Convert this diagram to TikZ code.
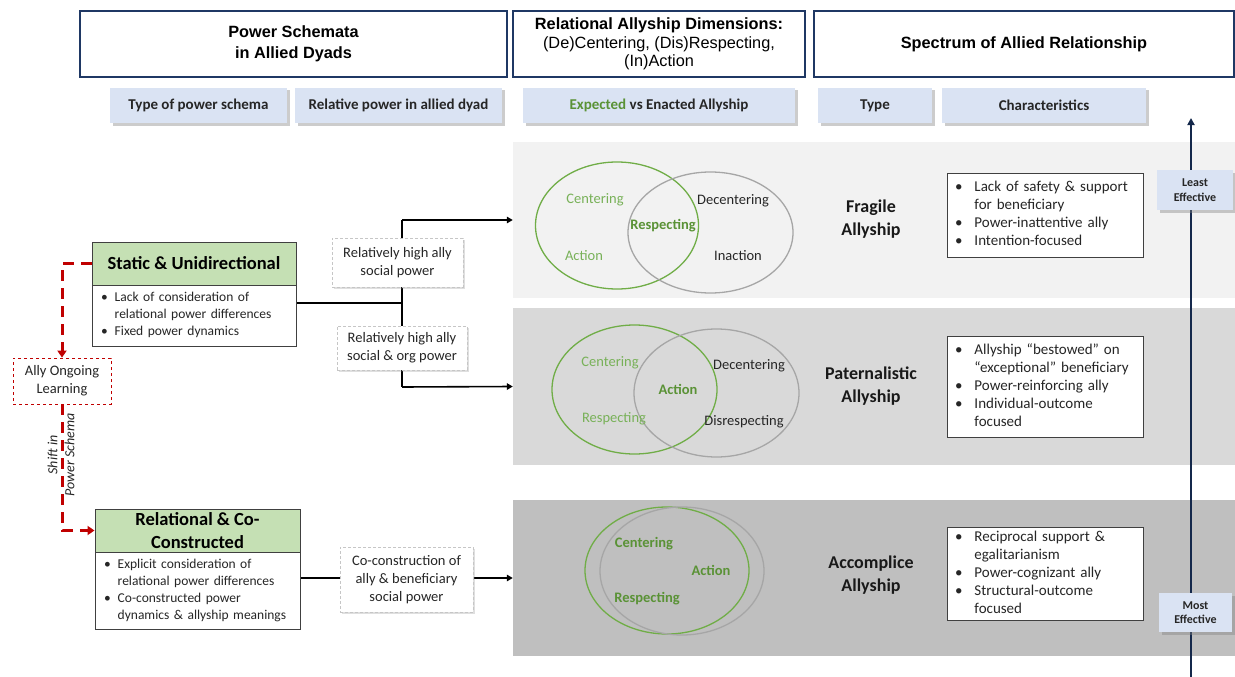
\documentclass[tikz,border=0pt]{standalone}
\usepackage{fontspec}
\setmainfont{Carlito}
\newfontfamily\arialf{Liberation Sans}
\usetikzlibrary{arrows.meta,shadows}
\pgfdeclarelayer{back}
\pgfdeclarelayer{mid}
\pgfsetlayers{back,mid,main}
\definecolor{navy}{HTML}{1F3864}
\definecolor{tabblue}{HTML}{DAE3F3}
\definecolor{bandA}{HTML}{F2F2F2}
\definecolor{bandB}{HTML}{D9D9D9}
\definecolor{bandC}{HTML}{BFBFBF}
\definecolor{greenfill}{HTML}{C5E0B4}
\definecolor{gline}{HTML}{70AD47}
\definecolor{glight}{HTML}{78B158}
\definecolor{gbold}{HTML}{5A9236}
\definecolor{gray2}{HTML}{A6A6A6}
\definecolor{redd}{HTML}{C00000}
\definecolor{spinec}{HTML}{14284B}
\definecolor{txt}{HTML}{262626}
\definecolor{boxline}{HTML}{404040}
\begin{document}
\begin{tikzpicture}[x=1pt,y=-1pt,
  hdr/.style={draw=navy, line width=1.2pt, fill=white, align=center, inner sep=0pt,
    font=\arialf\fontsize{16.3}{21}\selectfont\bfseries, text=black},
  tabbox/.style={fill=tabblue, draw=none, align=center, inner sep=0pt,
    font=\bfseries\fontsize{15}{18}\selectfont, text=txt,
    drop shadow={shadow xshift=2.5pt, shadow yshift=-2.5pt, opacity=0.4}},
  lbl/.style={fill=white, draw=gray!45, densely dashed, line width=0.7pt, align=center, inner sep=0pt,
    font=\fontsize{14.5}{18}\selectfont, text=txt,
    drop shadow={shadow xshift=2pt, shadow yshift=-2pt, opacity=0.25}},
  ghead/.style={draw=boxline, line width=1pt, fill=greenfill, align=center, inner sep=0pt,
    font=\bfseries\fontsize{18.5}{23}\selectfont, text=black},
  bodybox/.style={draw=boxline, line width=1pt, fill=white, align=left, inner xsep=9pt, inner ysep=0pt,
    font=\fontsize{13.5}{17}\selectfont, text=txt},
  charbox/.style={draw=boxline, line width=1pt, fill=white, align=left, inner xsep=8pt, inner ysep=0pt,
    font=\fontsize{15}{18}\selectfont, text=txt, minimum width=196pt, text width=180pt},
  bandbox/.style={draw=none, minimum width=722pt, inner sep=0pt},
  typelbl/.style={align=center, font=\bfseries\fontsize{18}{23}\selectfont, text=black!90},
  vlg/.style={font=\fontsize{14.5}{17}\selectfont, text=glight},
  vbg/.style={font=\bfseries\fontsize{14.5}{17}\selectfont, text=gbold},
  vdk/.style={font=\fontsize{14.5}{17}\selectfont, text=txt},
  gell/.style={draw=gline, line width=1.3pt},
  kell/.style={draw=gray2, line width=1.3pt},
  conn/.style={draw=black, line width=1.6pt},
  connarr/.style={conn, -{Triangle[length=6pt,width=6.5pt]}},
  reddash/.style={draw=redd, line width=3pt, dash pattern=on 11pt off 7pt, -{Triangle[length=7pt,width=9pt]}},
  spinearr/.style={draw=spinec, line width=2.8pt, -{Triangle[length=7pt,width=7pt]}},
  effbox/.style={tabbox, font=\bfseries\fontsize{12}{14.5}\selectfont}
]
\useasboundingbox (0,0) rectangle (1235,677);

% bands
\begin{pgfonlayer}{back}
\node[bandbox, fill=bandA, minimum height=156pt] (b1) at (874,220) {};
\node[bandbox, fill=bandB, minimum height=157pt] (b2) at (874,386.5) {};
\node[bandbox, fill=bandC, minimum height=156pt] (b3) at (874,578) {};
\end{pgfonlayer}

% headers
\node[hdr, minimum width=427pt, minimum height=66pt] (h1) at (293.5,44) {Power Schemata\\in Allied Dyads};
\node[hdr, minimum width=292pt, minimum height=66pt, font=\arialf\fontsize{16.3}{18.5}\selectfont\bfseries] (h2) at (659,44)
  {Relational Allyship Dimensions:\\{\mdseries (De)Centering, (Dis)Respecting,}\\{\mdseries (In)Action}};
\node[hdr, minimum width=420pt, minimum height=66pt] (h3) at (1024,44) {Spectrum of Allied Relationship};

% tabs
\node[tabbox, minimum width=177pt, minimum height=35pt] (t1) at (198.5,105.5) {Type of power schema};
\node[tabbox, minimum width=207pt, minimum height=35pt] (t2) at (398.5,105.5) {Relative power in allied dyad};
\node[tabbox, minimum width=272pt, minimum height=35pt] (t3) at (659,105.5) {\textcolor{gbold}{Expected} vs Enacted Allyship};
\node[tabbox, minimum width=114pt, minimum height=35pt] (t4) at (875,105.5) {Type};
\node[tabbox, minimum width=204pt, minimum height=35pt] (t5) at (1044,105.5) {Characteristics};

% left boxes
\node[ghead, minimum width=204pt, minimum height=43pt] (sh) at (194,263.5) {Static \& Unidirectional};
\node[bodybox, minimum width=204pt, text width=186pt, minimum height=61pt] (sb) at (194,315.5)
  {\begin{tabular}{@{}l@{\hspace{7pt}}l@{}}\textbullet & Lack of consideration of\\ & relational power differences\\ \textbullet & Fixed power dynamics\end{tabular}};
\node[ghead, minimum width=205pt, minimum height=43pt] (rh) at (197.5,530.5) {Relational \& Co-\\Constructed};
\node[bodybox, minimum width=205pt, text width=187pt, minimum height=77pt] (rb) at (197.5,590.5)
  {\begin{tabular}{@{}l@{\hspace{7pt}}l@{}}\textbullet & Explicit consideration of\\ & relational power differences\\ \textbullet & Co-constructed power\\ & dynamics \& allyship meanings\end{tabular}};

\node[draw=redd, dashed, line width=0.8pt, fill=white, align=center, inner sep=0pt,
  minimum width=98pt, minimum height=46pt, font=\fontsize{14.5}{18}\selectfont, text=txt] (ally) at (62,381) {Ally Ongoing\\Learning};
\node[rotate=90, align=center, font=\itshape\fontsize{14}{17}\selectfont, text=txt] (shift) at (61,455) {Shift in\\Power Schema};

% labels
\node[lbl, minimum width=131pt, minimum height=49pt] (l1) at (397.5,262.5) {Relatively high ally\\social power};
\node[lbl, minimum width=130pt, minimum height=44pt] (l2) at (402,348) {Relatively high ally\\social \& org power};
\node[lbl, minimum width=133pt, minimum height=65pt] (l3) at (406.5,579.5) {Co-construction of\\ally \& beneficiary\\social power};

% venn row 1
\draw[gell] (617,225.5) ellipse [x radius=81.5pt, y radius=63.5pt];
\draw[kell] (710.5,232.5) ellipse [x radius=82.5pt, y radius=60.5pt];
\node[vlg] (v1a) at (595,200) {Centering};
\node[vlg] (v1b) at (584,256) {Action};
\node[vbg] (v1c) at (663,226) {Respecting};
\node[vdk] (v1d) at (733,201) {Decentering};
\node[vdk] (v1e) at (738,256) {Inaction};
% venn row 2
\draw[gell] (634.5,389.5) ellipse [x radius=82.5pt, y radius=64.5pt];
\draw[kell] (716.5,393) ellipse [x radius=82.5pt, y radius=64pt];
\node[vlg] (v2a) at (610,363) {Centering};
\node[vlg] (v2b) at (614,419) {Respecting};
\node[vbg] (v2c) at (678,389) {Action};
\node[vdk] (v2d) at (749,366) {Decentering};
\node[vdk] (v2e) at (744,422) {Disrespecting};
% venn row 3
\draw[gell] (667,570.5) ellipse [x radius=82pt, y radius=63.5pt];
\draw[kell] (682,571) ellipse [x radius=82pt, y radius=64pt];
\node[vbg] (v3a) at (644,544) {Centering};
\node[vbg] (v3b) at (711,570) {Action};
\node[vbg] (v3c) at (647,599) {Respecting};

% types
\node[typelbl] (ty1) at (871,219.5) {Fragile\\Allyship};
\node[typelbl] (ty2) at (871,386.5) {Paternalistic\\Allyship};
\node[typelbl] (ty3) at (871,575.5) {Accomplice\\Allyship};

% characteristics
\node[charbox, minimum height=84pt] (c1) at (1045,215)
  {\begin{tabular}{@{}l@{\hspace{12pt}}l@{}}\textbullet & Lack of safety \& support\\ & for beneficiary\\ \textbullet & Power-inattentive ally\\ \textbullet & Intention-focused\end{tabular}};
\node[charbox, minimum height=101pt] (c2) at (1045,386.5)
  {\begin{tabular}{@{}l@{\hspace{12pt}}l@{}}\textbullet & Allyship “bestowed” on\\ & “exceptional” beneficiary\\ \textbullet & Power-reinforcing ally\\ \textbullet & Individual-outcome\\ & focused\end{tabular}};
\node[charbox, minimum height=93pt] (c3) at (1045,573.5)
  {\begin{tabular}{@{}l@{\hspace{12pt}}l@{}}\textbullet & Reciprocal support \&\\ & egalitarianism\\ \textbullet & Power-cognizant ally\\ \textbullet & Structural-outcome\\ & focused\end{tabular}};

% effectiveness
\node[effbox, minimum width=76pt, minimum height=40pt] (le) at (1195,190) {Least\\Effective};
\node[effbox, minimum width=73pt, minimum height=39pt] (me) at (1195.5,612.5) {Most\\Effective};

% connectors
\coordinate (sp) at (402,303);
\coordinate (sa) at (402,220);
\coordinate (sz) at (402,387);
\coordinate (spb) at (1191,677);
\coordinate (spt) at (1191,118);
\begin{pgfonlayer}{mid}
\draw[conn] (sb.east |- sp) -- (sp);
\draw[conn] (sa) -- (sz);
\draw[connarr] (sa) -- (b1.west);
\draw[connarr] (sz) -- (b2.west);
\draw[connarr] (rb.east |- b3.west) -- (b3.west);
\draw[spinearr] (spb) -- (spt);
\draw[reddash] (sh.west) -| (ally.north);
\draw[reddash] (ally.south) |- (rh.west);
\end{pgfonlayer}
\end{tikzpicture}
\end{document}
